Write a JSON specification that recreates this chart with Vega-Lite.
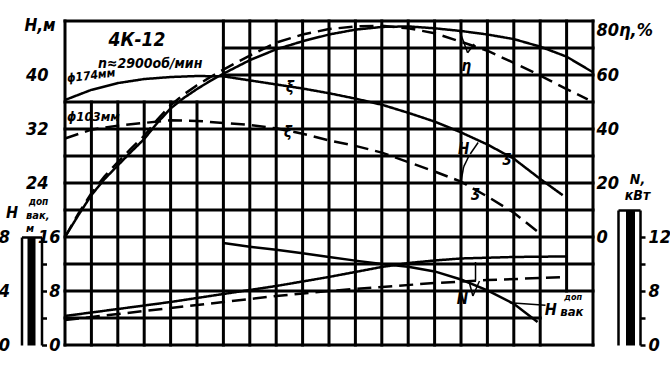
{
  "$schema": "https://vega.github.io/schema/vega-lite/v6.json",
  "width": 528,
  "height": 324,
  "autosize": {"type": "none"},
  "padding": {"left": 65, "top": 21, "right": 77, "bottom": 39},
  "background": "white",
  "config": {
    "view": {"stroke": null},
    "font": "Liberation Sans Narrow, DejaVu Sans Condensed, Liberation Sans, sans-serif",
    "axis": {"grid": false, "domain": false, "ticks": false, "labelFont": "Liberation Sans Narrow, DejaVu Sans Condensed, Liberation Sans, sans-serif", "labelFontStyle": "italic", "labelFontWeight": "bold", "labelFontSize": 18, "labelColor": "black", "titleFont": "Liberation Sans Narrow, DejaVu Sans Condensed, Liberation Sans, sans-serif", "titleFontStyle": "italic", "titleFontWeight": "bold", "titleColor": "black", "domainColor": "black", "tickColor": "black", "labelFlush": false, "labelOverlap": false},
    "text": {"font": "Liberation Sans Narrow, DejaVu Sans Condensed, Liberation Sans, sans-serif", "fontStyle": "italic", "fontWeight": "bold", "color": "black"},
    "line": {"color": "black", "strokeWidth": 2.5},
    "rule": {"color": "black"}
  },
  "datasets": {
    "vgrid": [
      {"Q": 0, "lo": 0, "hi": 48}, {"Q": 2, "lo": 0, "hi": 36}, {"Q": 4, "lo": 0, "hi": 36}, {"Q": 6, "lo": 0, "hi": 36}, {"Q": 8, "lo": 0, "hi": 36}, {"Q": 10, "lo": 0, "hi": 36},
      {"Q": 12, "lo": 0, "hi": 48}, {"Q": 14, "lo": 0, "hi": 48}, {"Q": 16, "lo": 0, "hi": 48}, {"Q": 18, "lo": 0, "hi": 48}, {"Q": 20, "lo": 0, "hi": 48}, {"Q": 22, "lo": 0, "hi": 48},
      {"Q": 24, "lo": 0, "hi": 48}, {"Q": 26, "lo": 0, "hi": 48}, {"Q": 28, "lo": 0, "hi": 48}, {"Q": 30, "lo": 0, "hi": 48}, {"Q": 32, "lo": 0, "hi": 48}, {"Q": 34, "lo": 0, "hi": 48},
      {"Q": 36, "lo": 0, "hi": 48}, {"Q": 38, "lo": 8, "hi": 48}, {"Q": 40, "lo": 0, "hi": 48}
    ],
    "hgrid": [
      {"H": 0, "lo": 0, "hi": 40}, {"H": 4, "lo": 0, "hi": 36}, {"H": 8, "lo": 0, "hi": 40}, {"H": 12, "lo": 0, "hi": 40}, {"H": 16, "lo": 0, "hi": 40}, {"H": 20, "lo": 0, "hi": 40},
      {"H": 24, "lo": 0, "hi": 40}, {"H": 28, "lo": 0, "hi": 40}, {"H": 32, "lo": 0, "hi": 40}, {"H": 36, "lo": 0, "hi": 40}, {"H": 40, "lo": 12, "hi": 40}, {"H": 44, "lo": 12, "hi": 40}, {"H": 48, "lo": 0, "hi": 40}
    ],
    "head": [
      {"d": "ϕ174", "Q": 0, "H": 36.3}, {"d": "ϕ174", "Q": 2, "H": 37.8}, {"d": "ϕ174", "Q": 4, "H": 38.8}, {"d": "ϕ174", "Q": 6, "H": 39.4}, {"d": "ϕ174", "Q": 8, "H": 39.7}, {"d": "ϕ174", "Q": 10, "H": 39.85},
      {"d": "ϕ174", "Q": 12, "H": 39.8}, {"d": "ϕ174", "Q": 14, "H": 39.2}, {"d": "ϕ174", "Q": 16, "H": 38.6}, {"d": "ϕ174", "Q": 18, "H": 38.0}, {"d": "ϕ174", "Q": 20, "H": 37.3}, {"d": "ϕ174", "Q": 22, "H": 36.5},
      {"d": "ϕ174", "Q": 24, "H": 35.6}, {"d": "ϕ174", "Q": 26, "H": 34.4}, {"d": "ϕ174", "Q": 28, "H": 33.1}, {"d": "ϕ174", "Q": 30, "H": 31.5}, {"d": "ϕ174", "Q": 32, "H": 29.7}, {"d": "ϕ174", "Q": 34, "H": 27.6},
      {"d": "ϕ174", "Q": 36, "H": 24.6}, {"d": "ϕ174", "Q": 37.7, "H": 22.2},
      {"d": "ϕ103", "Q": 0, "H": 30.6}, {"d": "ϕ103", "Q": 2, "H": 31.9}, {"d": "ϕ103", "Q": 4, "H": 32.5}, {"d": "ϕ103", "Q": 6, "H": 32.9}, {"d": "ϕ103", "Q": 8, "H": 33.3}, {"d": "ϕ103", "Q": 10, "H": 33.2},
      {"d": "ϕ103", "Q": 12, "H": 32.9}, {"d": "ϕ103", "Q": 14, "H": 32.6}, {"d": "ϕ103", "Q": 16, "H": 32.1}, {"d": "ϕ103", "Q": 18, "H": 31.3}, {"d": "ϕ103", "Q": 20, "H": 30.3}, {"d": "ϕ103", "Q": 22, "H": 29.5},
      {"d": "ϕ103", "Q": 24, "H": 28.5}, {"d": "ϕ103", "Q": 26, "H": 27.1}, {"d": "ϕ103", "Q": 28, "H": 25.7}, {"d": "ϕ103", "Q": 30, "H": 24.2}, {"d": "ϕ103", "Q": 32, "H": 22.0}, {"d": "ϕ103", "Q": 34, "H": 19.6},
      {"d": "ϕ103", "Q": 35.8, "H": 16.8}
    ],
    "eff": [
      {"d": "ϕ174", "Q": 0, "eta": 0}, {"d": "ϕ174", "Q": 1, "eta": 8}, {"d": "ϕ174", "Q": 2, "eta": 15.5}, {"d": "ϕ174", "Q": 3, "eta": 21.5}, {"d": "ϕ174", "Q": 4, "eta": 26.5}, {"d": "ϕ174", "Q": 5, "eta": 31.5},
      {"d": "ϕ174", "Q": 6, "eta": 36.3}, {"d": "ϕ174", "Q": 7, "eta": 42.3}, {"d": "ϕ174", "Q": 8, "eta": 47.6}, {"d": "ϕ174", "Q": 9, "eta": 51.5}, {"d": "ϕ174", "Q": 10, "eta": 54.8}, {"d": "ϕ174", "Q": 11, "eta": 57.8},
      {"d": "ϕ174", "Q": 12, "eta": 60.5}, {"d": "ϕ174", "Q": 14, "eta": 65.5}, {"d": "ϕ174", "Q": 16, "eta": 69.5}, {"d": "ϕ174", "Q": 18, "eta": 72.5}, {"d": "ϕ174", "Q": 20, "eta": 75}, {"d": "ϕ174", "Q": 22, "eta": 76.8},
      {"d": "ϕ174", "Q": 24, "eta": 77.8}, {"d": "ϕ174", "Q": 26, "eta": 78}, {"d": "ϕ174", "Q": 28, "eta": 77.3}, {"d": "ϕ174", "Q": 30, "eta": 76.3}, {"d": "ϕ174", "Q": 32, "eta": 75}, {"d": "ϕ174", "Q": 34, "eta": 73.3},
      {"d": "ϕ174", "Q": 36, "eta": 70.5}, {"d": "ϕ174", "Q": 38, "eta": 66.8}, {"d": "ϕ174", "Q": 40, "eta": 61},
      {"d": "ϕ103", "Q": 0, "eta": 0}, {"d": "ϕ103", "Q": 1, "eta": 8.6}, {"d": "ϕ103", "Q": 2, "eta": 16.2}, {"d": "ϕ103", "Q": 3, "eta": 22.5}, {"d": "ϕ103", "Q": 4, "eta": 27.7}, {"d": "ϕ103", "Q": 5, "eta": 32.7},
      {"d": "ϕ103", "Q": 6, "eta": 37.5}, {"d": "ϕ103", "Q": 7, "eta": 43.5}, {"d": "ϕ103", "Q": 8, "eta": 48.8}, {"d": "ϕ103", "Q": 9, "eta": 52.8}, {"d": "ϕ103", "Q": 10, "eta": 56.2}, {"d": "ϕ103", "Q": 11, "eta": 59.2},
      {"d": "ϕ103", "Q": 12, "eta": 62}, {"d": "ϕ103", "Q": 14, "eta": 67.2}, {"d": "ϕ103", "Q": 16, "eta": 72}, {"d": "ϕ103", "Q": 18, "eta": 75}, {"d": "ϕ103", "Q": 20, "eta": 77}, {"d": "ϕ103", "Q": 22, "eta": 78},
      {"d": "ϕ103", "Q": 24, "eta": 78.2}, {"d": "ϕ103", "Q": 26, "eta": 77.3}, {"d": "ϕ103", "Q": 28, "eta": 75.5}, {"d": "ϕ103", "Q": 30, "eta": 72.3}, {"d": "ϕ103", "Q": 32, "eta": 69}, {"d": "ϕ103", "Q": 34, "eta": 64.5},
      {"d": "ϕ103", "Q": 36, "eta": 59.8}, {"d": "ϕ103", "Q": 38, "eta": 54.8}, {"d": "ϕ103", "Q": 39.6, "eta": 51}
    ],
    "power": [
      {"d": "ϕ174", "Q": 0, "N": 4.3}, {"d": "ϕ174", "Q": 4, "N": 5.33}, {"d": "ϕ174", "Q": 8, "N": 6.37}, {"d": "ϕ174", "Q": 12, "N": 7.56}, {"d": "ϕ174", "Q": 16, "N": 8.37}, {"d": "ϕ174", "Q": 20, "N": 9.04},
      {"d": "ϕ174", "Q": 24, "N": 9.78}, {"d": "ϕ174", "Q": 26, "N": 10.07}, {"d": "ϕ174", "Q": 28, "N": 10.26}, {"d": "ϕ174", "Q": 30, "N": 10.41}, {"d": "ϕ174", "Q": 34, "N": 10.52}, {"d": "ϕ174", "Q": 38, "N": 10.56},
      {"d": "ϕ103", "Q": 0, "N": 3.7}, {"d": "ϕ103", "Q": 4, "N": 4.59}, {"d": "ϕ103", "Q": 8, "N": 5.48}, {"d": "ϕ103", "Q": 12, "N": 6.37}, {"d": "ϕ103", "Q": 16, "N": 7.26}, {"d": "ϕ103", "Q": 20, "N": 8.0},
      {"d": "ϕ103", "Q": 24, "N": 8.3}, {"d": "ϕ103", "Q": 28, "N": 8.59}, {"d": "ϕ103", "Q": 32, "N": 8.81}, {"d": "ϕ103", "Q": 36, "N": 8.96}, {"d": "ϕ103", "Q": 38, "N": 9.04}
    ],
    "vac": [
      {"Q": 12, "Hv": 7.55}, {"Q": 14, "Hv": 7.28}, {"Q": 16, "Hv": 7.05}, {"Q": 18, "Hv": 6.8}, {"Q": 20, "Hv": 6.52}, {"Q": 22, "Hv": 6.25}, {"Q": 24, "Hv": 6.0},
      {"Q": 26, "Hv": 5.8}, {"Q": 28, "Hv": 5.45}, {"Q": 30, "Hv": 4.85}, {"Q": 32, "Hv": 4.05}, {"Q": 34, "Hv": 3.05}, {"Q": 35.8, "Hv": 1.7}
    ],
    "hPtr": [
      {"q1": 29.9, "v1": 46.5, "q2": 30.5, "v2": 43.3}, {"q1": 30.5, "v1": 43.3, "q2": 31.0, "v2": 44.6},
      {"q1": 30.7, "v1": 28.3, "q2": 31.3, "v2": 30.0}, {"q1": 30.6, "v1": 28.0, "q2": 30.2, "v2": 26.4}, {"q1": 30.2, "v1": 26.4, "q2": 30.0, "v2": 24.2}
    ],
    "nPtr": [
      {"q1": 30.9, "v1": 7.26, "q2": 30.6, "v2": 8.74}, {"q1": 30.9, "v1": 7.26, "q2": 31.4, "v2": 8.74}, {"q1": 31.1, "v1": 8.74, "q2": 31.1, "v2": 10.15}
    ],
    "vPtr": [{"q1": 33.7, "v1": 3.13, "q2": 36.4, "v2": 2.94}]
  },
  "resolve": {"scale": {"y": "independent"}},
  "layer": [
    {
      "data": {"name": "vgrid"},
      "mark": {"type": "rule", "strokeWidth": 3, "strokeCap": "square"},
      "encoding": {
        "x": {"field": "Q", "type": "quantitative", "scale": {"domain": [0, 40], "nice": false, "zero": false}, "axis": {"values": [0, 4, 8, 12, 16, 20, 24, 28, 32, 36, 40], "labelFontSize": 20, "labelPadding": 6, "title": null}},
        "y": {"field": "lo", "type": "quantitative", "scale": {"domain": [0, 48], "nice": false, "zero": false}, "axis": {"orient": "left", "values": [0, 8, 16], "labelPadding": 5, "title": null}},
        "y2": {"field": "hi"}
      }
    },
    {
      "data": {"name": "hgrid"},
      "mark": {"type": "rule", "strokeWidth": 3, "strokeCap": "square"},
      "encoding": {
        "x": {"field": "lo", "type": "quantitative", "scale": {"domain": [0, 40], "nice": false, "zero": false}, "axis": null},
        "x2": {"field": "hi"},
        "y": {"field": "H", "type": "quantitative", "scale": {"domain": [0, 48], "nice": false, "zero": false}, "axis": {"orient": "left", "values": [24, 32, 40], "labelPadding": 17, "title": "Н,м", "titleAngle": 0, "titleX": -10, "titleY": 4, "titleAlign": "right", "titleBaseline": "middle", "titleFontSize": 17}}
      }
    },
    {
      "data": {"name": "head"},
      "mark": {"type": "line", "strokeWidth": 2.5},
      "encoding": {
        "x": {"field": "Q", "type": "quantitative", "scale": {"domain": [0, 40], "nice": false, "zero": false}, "axis": null},
        "y": {"field": "H", "type": "quantitative", "scale": {"domain": [0, 48], "nice": false, "zero": false}, "axis": null},
        "strokeDash": {"field": "d", "type": "nominal", "scale": {"domain": ["ϕ174", "ϕ103"], "range": [[1, 0], [14, 7]]}, "legend": null}
      }
    },
    {
      "data": {"name": "eff"},
      "mark": {"type": "line", "strokeWidth": 2.5},
      "encoding": {
        "x": {"field": "Q", "type": "quantitative", "scale": {"domain": [0, 40], "nice": false, "zero": false}, "axis": null},
        "y": {"field": "eta", "type": "quantitative", "scale": {"domain": [-40, 80], "nice": false, "zero": false}, "axis": {"orient": "right", "values": [0, 20, 40, 60, 80], "labelExpr": "datum.value == 80 ? '80η,%' : datum.label", "labelPadding": 3, "labelFlush": true, "title": null}},
        "strokeDash": {"field": "d", "type": "nominal", "scale": {"domain": ["ϕ174", "ϕ103"], "range": [[1, 0], [14, 7]]}, "legend": null}
      }
    },
    {
      "data": {"name": "power"},
      "mark": {"type": "line", "strokeWidth": 2.5},
      "encoding": {
        "x": {"field": "Q", "type": "quantitative", "scale": {"domain": [0, 40], "nice": false, "zero": false}, "axis": null},
        "y": {"field": "N", "type": "quantitative", "scale": {"type": "linear", "domain": [0, 8, 12, 14], "range": [324, 270, 216, 189], "nice": false, "zero": false}, "axis": {"orient": "right", "offset": 47, "domain": true, "domainWidth": 2.5, "ticks": true, "tickSize": 5, "tickWidth": 2.5, "values": [0, 4, 8, 10, 12], "labelExpr": "(datum.value == 4 || datum.value == 10) ? '' : datum.label", "labelPadding": 3, "title": ["N,", "кВт"], "titleAngle": 0, "titleX": -3, "titleY": 162, "titleAlign": "center", "titleBaseline": "alphabetic", "titleFontSize": 14, "titleLineHeight": 16}},
        "strokeDash": {"field": "d", "type": "nominal", "scale": {"domain": ["ϕ174", "ϕ103"], "range": [[1, 0], [14, 7]]}, "legend": null}
      }
    },
    {
      "data": {"values": [{"Q": 30.1, "N": 6.81, "t": "N"}]},
      "mark": {"type": "text", "fontSize": 15},
      "encoding": {
        "x": {"field": "Q", "type": "quantitative", "scale": {"domain": [0, 40], "nice": false, "zero": false}, "axis": null},
        "y": {"field": "N", "type": "quantitative", "scale": {"type": "linear", "domain": [0, 8, 12, 14], "range": [324, 270, 216, 189], "nice": false, "zero": false}, "axis": {"orient": "right", "offset": 37, "domain": true, "domainWidth": 9, "labels": false, "ticks": false, "title": null}},
        "text": {"field": "t"}
      }
    },
    {
      "data": {"name": "nPtr"},
      "mark": {"type": "rule", "strokeWidth": 1.5},
      "encoding": {
        "x": {"field": "q1", "type": "quantitative", "scale": {"domain": [0, 40], "nice": false, "zero": false}, "axis": null},
        "x2": {"field": "q2"},
        "y": {"field": "v1", "type": "quantitative", "scale": {"type": "linear", "domain": [0, 8, 12, 14], "range": [324, 270, 216, 189], "nice": false, "zero": false}, "axis": {"orient": "right", "offset": 25, "domain": true, "domainWidth": 2.5, "labels": false, "ticks": true, "values": [14], "tickSize": 22, "tickWidth": 2.5, "title": null}},
        "y2": {"field": "v2"}
      }
    },
    {
      "data": {"name": "vac"},
      "mark": {"type": "line", "strokeWidth": 2.5},
      "encoding": {
        "x": {"field": "Q", "type": "quantitative", "scale": {"domain": [0, 40], "nice": false, "zero": false}, "axis": null},
        "y": {"field": "Hv", "type": "quantitative", "scale": {"domain": [0, 8], "range": [324, 216], "nice": false, "zero": false}, "axis": {"orient": "left", "offset": 43.5, "domain": true, "domainWidth": 2.5, "ticks": false, "values": [0, 4, 8], "labelPadding": 12, "title": "Н", "titleAngle": 0, "titleX": -10, "titleY": 196, "titleAlign": "center", "titleBaseline": "alphabetic", "titleFontSize": 16}}
      }
    },
    {
      "data": {"values": [{"Q": 36.8, "Hv": 2.6, "t": "Н"}]},
      "mark": {"type": "text", "fontSize": 16},
      "encoding": {
        "x": {"field": "Q", "type": "quantitative", "scale": {"domain": [0, 40], "nice": false, "zero": false}, "axis": null},
        "y": {"field": "Hv", "type": "quantitative", "scale": {"domain": [0, 8], "range": [324, 216], "nice": false, "zero": false}, "axis": {"orient": "left", "offset": 34, "domain": true, "domainWidth": 8, "labels": false, "ticks": false, "title": "доп", "titleAngle": 0, "titleX": 7, "titleY": 183, "titleAlign": "center", "titleBaseline": "alphabetic", "titleFontSize": 10}},
        "text": {"field": "t"}
      }
    },
    {
      "data": {"values": [{"Q": 38.4, "Hv": 2.45, "t": "вак"}]},
      "mark": {"type": "text", "fontSize": 13},
      "encoding": {
        "x": {"field": "Q", "type": "quantitative", "scale": {"domain": [0, 40], "nice": false, "zero": false}, "axis": null},
        "y": {"field": "Hv", "type": "quantitative", "scale": {"domain": [0, 8], "range": [324, 216], "nice": false, "zero": false}, "axis": {"orient": "left", "offset": 23.5, "domain": true, "domainWidth": 2.5, "labels": false, "ticks": true, "values": [0, 2, 4, 6, 8], "tickWidth": 2.5, "tickSize": {"condition": {"test": "datum.value == 8", "value": 20}, "value": -5}, "title": ["вак,", "м"], "titleAngle": 0, "titleX": -16, "titleY": 197, "titleAlign": "left", "titleBaseline": "alphabetic", "titleFontSize": 11, "titleLineHeight": 13}},
        "text": {"field": "t"}
      }
    },
    {
      "data": {"values": [{"Q": 38.5, "Hv": 3.55, "t": "доп"}]},
      "mark": {"type": "text", "fontSize": 9},
      "encoding": {
        "x": {"field": "Q", "type": "quantitative", "scale": {"domain": [0, 40], "nice": false, "zero": false}, "axis": null},
        "y": {"field": "Hv", "type": "quantitative", "scale": {"domain": [0, 8], "range": [324, 216], "nice": false, "zero": false}, "axis": null},
        "text": {"field": "t"}
      }
    },
    {
      "data": {"name": "vPtr"},
      "mark": {"type": "rule", "strokeWidth": 1.5},
      "encoding": {
        "x": {"field": "q1", "type": "quantitative", "scale": {"domain": [0, 40], "nice": false, "zero": false}, "axis": null},
        "x2": {"field": "q2"},
        "y": {"field": "v1", "type": "quantitative", "scale": {"domain": [0, 8], "range": [324, 216], "nice": false, "zero": false}, "axis": null},
        "y2": {"field": "v2"}
      }
    },
    {
      "data": {"name": "hPtr"},
      "mark": {"type": "rule", "strokeWidth": 1.5},
      "encoding": {
        "x": {"field": "q1", "type": "quantitative", "scale": {"domain": [0, 40], "nice": false, "zero": false}, "axis": null},
        "x2": {"field": "q2"},
        "y": {"field": "v1", "type": "quantitative", "scale": {"domain": [0, 48], "nice": false, "zero": false}, "axis": null},
        "y2": {"field": "v2"}
      }
    },
    {
      "data": {"values": [{"Q": 5.45, "H": 45.2, "t": "4К-12"}]},
      "mark": {"type": "text", "fontSize": 19},
      "encoding": {
        "x": {"field": "Q", "type": "quantitative", "scale": {"domain": [0, 40], "nice": false, "zero": false}, "axis": null},
        "y": {"field": "H", "type": "quantitative", "scale": {"domain": [0, 48], "nice": false, "zero": false}, "axis": null},
        "text": {"field": "t"}
      }
    },
    {
      "data": {"values": [{"Q": 6.45, "H": 41.7, "t": "n≈2900об/мин"}]},
      "mark": {"type": "text", "fontSize": 14},
      "encoding": {
        "x": {"field": "Q", "type": "quantitative", "scale": {"domain": [0, 40], "nice": false, "zero": false}, "axis": null},
        "y": {"field": "H", "type": "quantitative", "scale": {"domain": [0, 48], "nice": false, "zero": false}, "axis": null},
        "text": {"field": "t"}
      }
    },
    {
      "data": {"values": [{"Q": 0.15, "H": 39.5, "t": "ϕ174мм"}]},
      "mark": {"type": "text", "fontSize": 12, "align": "left", "angle": -7},
      "encoding": {
        "x": {"field": "Q", "type": "quantitative", "scale": {"domain": [0, 40], "nice": false, "zero": false}, "axis": null},
        "y": {"field": "H", "type": "quantitative", "scale": {"domain": [0, 48], "nice": false, "zero": false}, "axis": null},
        "text": {"field": "t"}
      }
    },
    {
      "data": {"values": [{"Q": 0.15, "H": 33.8, "t": "ϕ103мм"}]},
      "mark": {"type": "text", "fontSize": 13, "align": "left"},
      "encoding": {
        "x": {"field": "Q", "type": "quantitative", "scale": {"domain": [0, 40], "nice": false, "zero": false}, "axis": null},
        "y": {"field": "H", "type": "quantitative", "scale": {"domain": [0, 48], "nice": false, "zero": false}, "axis": null},
        "text": {"field": "t"}
      }
    },
    {
      "data": {"values": [
        {"Q": 17.05, "H": 38.2, "t": "ξ"}, {"Q": 16.9, "H": 31.6, "t": "ξ"},
        {"Q": 33.5, "H": 27.9, "t": "ʒ"}, {"Q": 31.1, "H": 22.7, "t": "ʒ"},
        {"Q": 30.4, "H": 41.3, "t": "η"}, {"Q": 30.2, "H": 29.1, "t": "Н"}
      ]},
      "mark": {"type": "text", "fontSize": 15},
      "encoding": {
        "x": {"field": "Q", "type": "quantitative", "scale": {"domain": [0, 40], "nice": false, "zero": false}, "axis": null},
        "y": {"field": "H", "type": "quantitative", "scale": {"domain": [0, 48], "nice": false, "zero": false}, "axis": null},
        "text": {"field": "t"}
      }
    }
  ]
}
